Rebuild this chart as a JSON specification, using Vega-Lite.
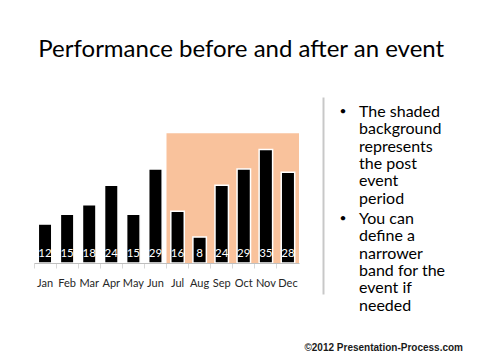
{
  "$schema": "https://vega.github.io/schema/vega-lite/v6.json",
  "background": "white",
  "padding": {"left": 33, "top": 38, "right": 0, "bottom": 0},
  "autosize": {"type": "pad"},
  "config": {
    "view": {"stroke": null},
    "font": "Lato"
  },
  "title": {
    "text": "Performance before and after an event",
    "font": "Lato",
    "fontSize": 24,
    "fontWeight": "normal",
    "color": "#000000",
    "anchor": "middle",
    "frame": "bounds",
    "offset": 35,
    "dx": -7
  },
  "bounds": "flush",
  "spacing": 24,
  "hconcat": [
    {
      "width": 265,
      "height": 166,
      "layer": [
        {
          "data": {"values": [{"start": "Jul", "end": "Dec"}]},
          "mark": {"type": "rect", "color": "#F9C29C"},
          "encoding": {
            "x": {"field": "start", "type": "ordinal", "bandPosition": 0},
            "x2": {"field": "end", "bandPosition": 1},
            "y": {"datum": 40, "type": "quantitative"},
            "y2": {"datum": 0}
          }
        },
        {
          "data": {"name": "sales"},
          "mark": {"type": "bar", "fill": "#000000", "stroke": "#ffffff", "strokeWidth": 1.5, "width": {"band": 0.61}},
          "encoding": {
            "x": {"field": "month", "type": "ordinal"},
            "y": {"field": "value", "type": "quantitative"}
          }
        },
        {
          "data": {"name": "sales"},
          "mark": {"type": "text", "color": "#ffffff", "baseline": "bottom", "dy": -4, "fontSize": 11.5, "font": "Lato"},
          "encoding": {
            "x": {"field": "month", "type": "ordinal"},
            "y": {"datum": 0, "type": "quantitative"},
            "text": {"field": "value", "type": "quantitative"}
          }
        }
      ],
      "encoding": {
        "x": {
          "type": "ordinal",
          "scale": {"domain": ["Jan", "Feb", "Mar", "Apr", "May", "Jun", "Jul", "Aug", "Sep", "Oct", "Nov", "Dec"], "paddingInner": 0, "paddingOuter": 0},
          "axis": {
            "title": null,
            "labelAngle": 0,
            "bandPosition": 0,
            "domainColor": "#bfbfbf",
            "tickColor": "#d9d9d9",
            "tickSize": 5,
            "labelFont": "Lato",
            "labelFontSize": 11,
            "labelColor": "#262626",
            "labelPadding": 9
          }
        },
        "y": {
          "type": "quantitative",
          "scale": {"domain": [0, 51.2], "nice": false, "zero": true},
          "axis": null
        }
      }
    },
    {
      "width": 125,
      "height": 197,
      "title": {
        "text": "©2012 Presentation-Process.com",
        "orient": "bottom",
        "anchor": "end",
        "frame": "group",
        "font": "Liberation Sans",
        "fontSize": 10,
        "fontWeight": "bold",
        "color": "#1a1a1a",
        "offset": 29,
        "dx": 15
      },
      "data": {
        "values": [
          {"bullet": 1, "text": "The shaded\nbackground\nrepresents\nthe post\nevent\nperiod"},
          {"bullet": 2, "text": "You can\ndefine a\nnarrower\nband for the\nevent if\nneeded"}
        ]
      },
      "encoding": {
        "y": {
          "field": "bullet",
          "type": "ordinal",
          "bandPosition": 0,
          "scale": {"type": "band", "paddingInner": 0.159, "paddingOuter": 0},
          "axis": {"title": null, "labels": false, "ticks": false, "domainColor": "#c8c8c8", "domainWidth": 2}
        }
      },
      "layer": [
        {
          "mark": {"type": "text", "text": "•", "align": "center", "baseline": "top", "x": 20, "dy": 9, "fontSize": 12, "font": "Lato", "color": "#000000"}
        },
        {
          "mark": {"type": "text", "align": "left", "baseline": "top", "x": 36, "dy": 7, "fontSize": 16, "font": "Lato", "lineBreak": "\n", "lineHeight": 17.3, "color": "#000000"},
          "encoding": {"text": {"field": "text", "type": "nominal"}}
        }
      ]
    }
  ],
  "datasets": {
    "sales": [
      {"month": "Jan", "value": 12},
      {"month": "Feb", "value": 15},
      {"month": "Mar", "value": 18},
      {"month": "Apr", "value": 24},
      {"month": "May", "value": 15},
      {"month": "Jun", "value": 29},
      {"month": "Jul", "value": 16},
      {"month": "Aug", "value": 8},
      {"month": "Sep", "value": 24},
      {"month": "Oct", "value": 29},
      {"month": "Nov", "value": 35},
      {"month": "Dec", "value": 28}
    ]
  }
}
